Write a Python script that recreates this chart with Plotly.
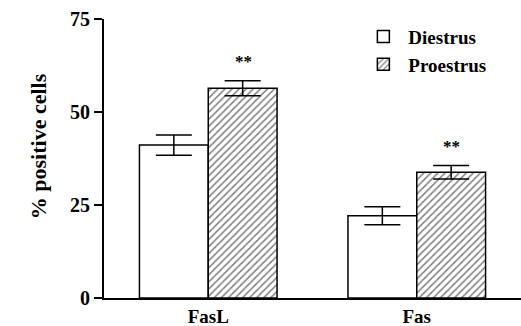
import plotly.graph_objects as go

categories = ["FasL", "Fas"]
diestrus = [41.1, 22.1]
diestrus_err = [2.7, 2.4]
proestrus = [56.4, 33.8]
proestrus_err = [2.0, 1.8]
signif = ["**", "**"]
y_ticks = [0, 25, 50, 75]

FONT = "Liberation Serif"

def bfont(size):
    return dict(family=FONT, size=size, color="black", weight="bold")

fig = go.Figure()
fig.add_trace(go.Bar(
    name="Diestrus", x=categories, y=diestrus,
    marker=dict(color="white", line=dict(color="black", width=1.5)),
    error_y=dict(type="data", array=diestrus_err, color="black", thickness=1.5, width=18),
))
fig.add_trace(go.Bar(
    name="Proestrus", x=categories, y=proestrus,
    marker=dict(color="white", line=dict(color="black", width=1.5),
                pattern=dict(shape="/", fgcolor="black", bgcolor="white", size=5, solidity=0.3)),
    error_y=dict(type="data", array=proestrus_err, color="black", thickness=1.5, width=18),
))

for c, v, e, s in zip(categories, proestrus, proestrus_err, signif):
    fig.add_annotation(x=c, y=v + e + 2.0, text=s, showarrow=False,
                       xshift=35, yanchor="bottom", font=bfont(17))

fig.add_annotation(xref="paper", yref="paper", x=-0.19, y=0.545, text="% positive cells",
                   textangle=-90, showarrow=False, font=bfont(22))

fig.update_layout(
    width=521, height=326,
    margin=dict(l=104, r=0, t=19, b=28),
    paper_bgcolor="white", plot_bgcolor="white",
    barmode="group", bargap=0.34, bargroupgap=0,
    showlegend=True,
    legend=dict(x=0.61, y=1.005, xanchor="left", yanchor="top", bgcolor="rgba(0,0,0,0)",
                font=bfont(19), tracegroupgap=0, itemwidth=40),
    font=dict(family=FONT, color="black"),
)
fig.update_xaxes(range=[-0.5, 1.5], showline=True, linecolor="black", linewidth=2, ticks="",
                 tickfont=bfont(19), showgrid=False, zeroline=False, automargin=False, ticklabelstandoff=0)
fig.update_yaxes(range=[0, 75], tickvals=y_ticks, showline=True, linecolor="black", linewidth=2,
                 ticks="outside", ticklen=8, tickwidth=2, tickcolor="black",
                 tickfont=bfont(20), showgrid=False, zeroline=False, automargin=False)

fig.write_html("out.html", config={"displayModeBar": False},
               post_script="document.body.style.margin='0';")
